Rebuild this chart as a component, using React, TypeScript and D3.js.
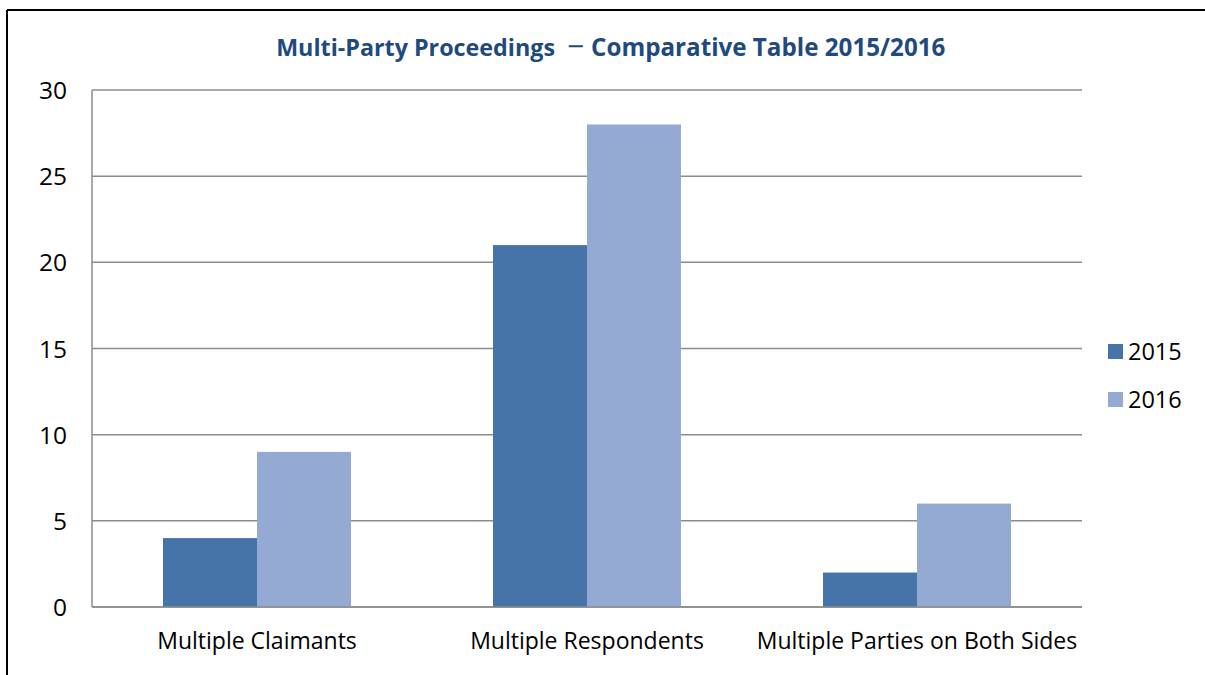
import React from "react";
import * as d3 from "d3";

const categories = ["Multiple Claimants", "Multiple Respondents", "Multiple Parties on Both Sides"];
const seriesNames = ["2015", "2016"];
const values2015 = [4, 21, 2];
const values2016 = [9, 28, 6];
const yTicks = [0, 5, 10, 15, 20, 25, 30];
const colors = ["#4674A9", "#95AAD2"];
const titleLeft = "Multi-Party Proceedings";
const titleDash = "\u2212";
const titleRight = "Comparative Table 2015/2016";

const W = 1205, H = 675;
const left = 92, right = 1082, top = 90, bottom = 607;
const font = "'Open Sans', Calibri, sans-serif";
const titleColor = "#1F4A7E";

export default function App() {
  const y = d3.scaleLinear().domain([0, 30]).range([bottom, top]);
  const x0 = d3.scaleBand<string>().domain(categories).range([left, right]);
  const x1 = d3.scaleBand<string>().domain(seriesNames).range([0, x0.bandwidth()]).paddingOuter(0.755);
  const series = [values2015, values2016];
  return (
    <svg width={W} height={H} style={{ position: "absolute", left: 0, top: 0, background: "#fff" }}>
      <rect x={0} y={0} width={W} height={H} fill="#fff" />
      <line x1={7} y1={10} x2={W} y2={10} stroke="#000" strokeWidth={2} />
      <line x1={7} y1={10} x2={7} y2={H} stroke="#000" strokeWidth={2} />
      <text x={555} y={56} textAnchor="end" fontFamily={font} fontWeight="bold" fontSize={23.3} fill={titleColor}>{titleLeft}</text>
      <text x={575.5} y={57} textAnchor="middle" fontFamily={font} fontWeight="normal" fontSize={30} fill={titleColor}>{titleDash}</text>
      <text x={591} y={56} textAnchor="start" fontFamily={font} fontWeight="bold" fontSize={24.2} fill={titleColor}>{titleRight}</text>
      {yTicks.map(t => (
        <g key={t}>
          <line x1={left} x2={right} y1={y(t)} y2={y(t)} stroke="#8C8C8C" strokeWidth={1.5} />
          <text x={67} y={y(t) + 9} textAnchor="end" fontFamily={font} fontSize={24.5} fill="#000">{t}</text>
        </g>
      ))}
      <line x1={left} x2={left} y1={top} y2={bottom} stroke="#8C8C8C" strokeWidth={1.5} />
      {categories.map((c, i) => (
        <g key={c}>
          {seriesNames.map((s, j) => (
            <rect key={s} x={(x0(c) as number) + (x1(s) as number)} width={x1.bandwidth()} y={y(series[j][i])} height={bottom - y(series[j][i])} fill={colors[j]} />
          ))}
          <text x={(x0(c) as number) + x0.bandwidth() / 2} y={649} textAnchor="middle" fontFamily={font} fontSize={23} fill="#000">{c}</text>
        </g>
      ))}
      <line x1={left} x2={right} y1={bottom} y2={bottom} stroke="#8C8C8C" strokeWidth={1.5} />
      {seriesNames.map((s, j) => (
        <g key={s}>
          <rect x={1108} y={344 + j * 48} width={15} height={15} fill={colors[j]} />
          <text x={1128} y={360 + j * 48} fontFamily={font} fontSize={23.5} fill="#000">{s}</text>
        </g>
      ))}
    </svg>
  );
}
